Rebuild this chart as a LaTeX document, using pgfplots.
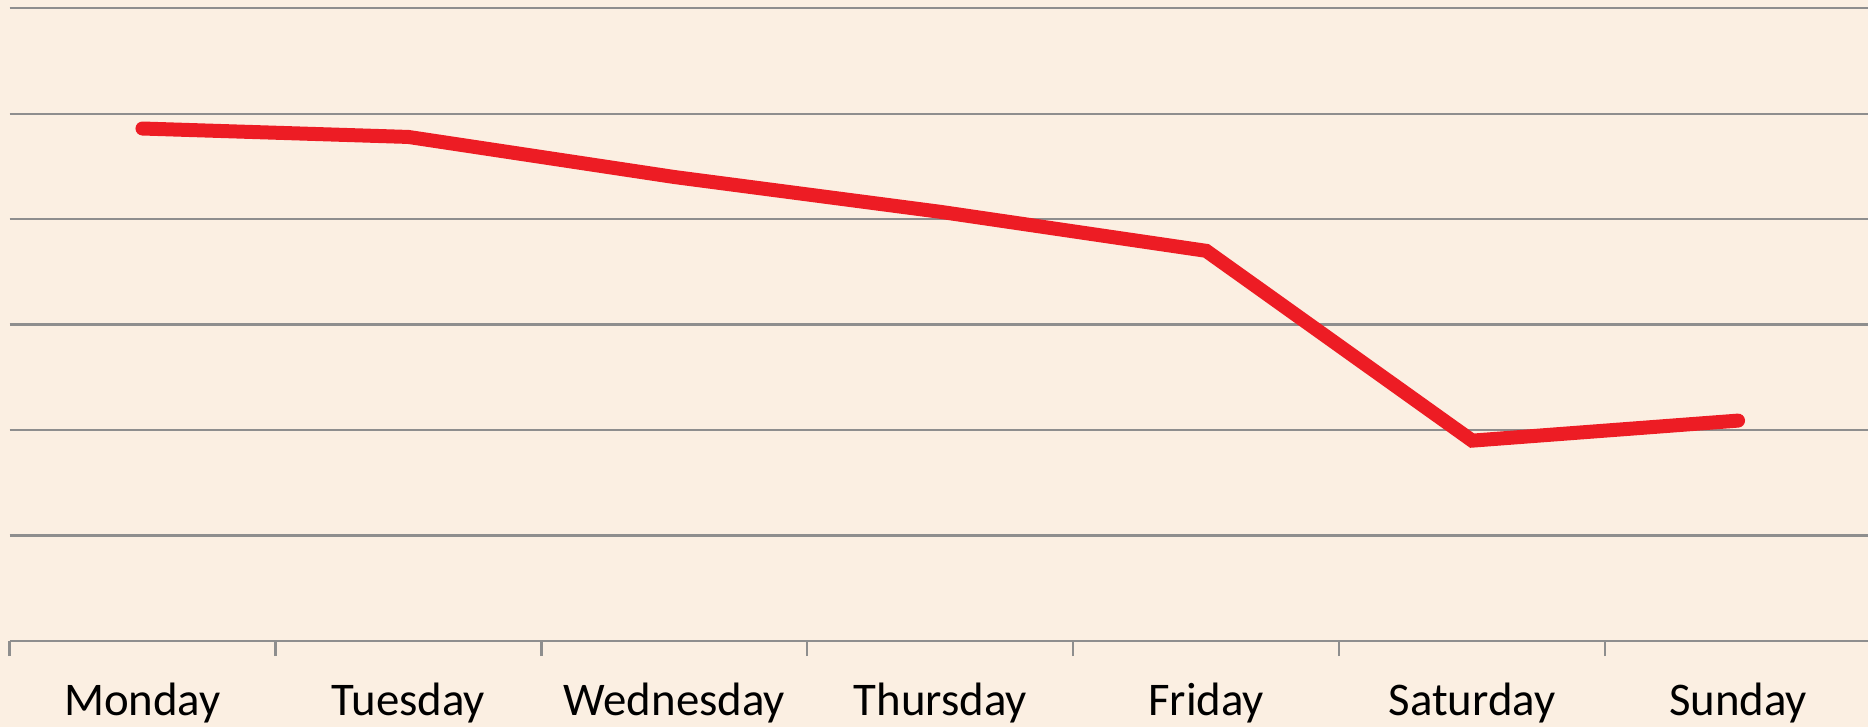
\documentclass[border=0pt]{standalone}
\usepackage{pgfplots}
\pgfplotsset{compat=1.18}
\usepackage{fontspec}
\setmainfont{Carlito}
\definecolor{bg}{HTML}{FBEFE2}
\definecolor{gridc}{HTML}{8E8E8E}
\definecolor{redline}{HTML}{ED1C24}
\begin{document}
\begin{tikzpicture}
\fill[bg] (0,0) rectangle (934bp,363.5bp);
\useasboundingbox (0,0) rectangle (934bp,363.5bp);
\begin{axis}[
  at={(4.75bp,43bp)}, anchor=south west,
  scale only axis, width=930.75bp, height=316.35bp,
  xmin=-0.5, xmax=6.5, ymin=0, ymax=6,
  axis x line*=bottom, axis y line*=left,
  y axis line style={draw=none},
  x axis line style={gridc, line width=1.2bp},
  ytick={1,...,6}, yticklabels={}, ymajorgrids,
  major grid style={gridc, line width=1.2bp},
  y tick style={draw=none},
  xtick={0,...,6},
  xticklabels={Monday,Tuesday,Wednesday,Thursday,Friday,Saturday,Sunday},
  major x tick style={draw=none},
  minor xtick={-0.5,0.5,...,6.5},
  minor x tick style={gridc, line width=1.2bp},
  minor tick length=7.5bp,
  tick align=outside,
  clip=false,
  every tick label/.append style={font=\fontsize{23.5}{28}\selectfont},
  xticklabel style={anchor=base, yshift=-33.2bp},
]
\addplot[redline, line width=7bp, line cap=round, line join=miter] coordinates {(0,4.86)(1,4.78)(2,4.40)(3,4.07)(4,3.70)(5,1.90)(6,2.09)};
\end{axis}
\end{tikzpicture}
\end{document}
